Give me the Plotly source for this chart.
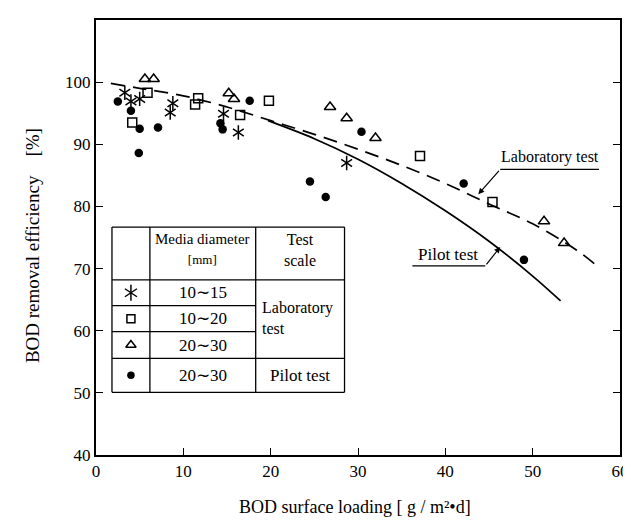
import plotly.graph_objects as go

# ---------------- data ----------------
star_x = [3.3, 4.0, 5.0, 8.8, 8.5, 14.6, 16.3, 28.7]
star_y = [98.3, 96.9, 97.3, 96.6, 95.1, 94.9, 91.9, 87.0]

square_x = [4.15, 5.9, 11.7, 11.35, 16.5, 19.8, 37.1, 45.4]
square_y = [93.5, 98.3, 97.4, 96.4, 94.7, 97.0, 88.1, 80.7]

tri_x = [5.6, 6.6, 15.2, 15.8, 26.8, 28.7, 32.0, 51.3, 53.6]
tri_y = [100.5, 100.5, 98.2, 97.3, 96.0, 94.2, 91.0, 77.6, 74.1]

dot_x = [2.5, 4.0, 5.0, 7.1, 4.9, 14.25, 14.5, 17.6, 24.5, 26.3, 30.4, 42.1, 49.0]
dot_y = [96.9, 95.4, 92.5, 92.7, 88.6, 93.4, 92.4, 97.0, 84.0, 81.5, 92.0, 83.7, 71.4]

lab_curve_x = [1.7, 5, 10, 15, 20, 25, 30, 35, 40, 45, 50, 55, 57.3]
lab_curve_y = [99.8, 99.0, 97.8, 96.0, 93.8, 91.6, 89.2, 86.6, 83.7, 80.4, 77.2, 73.0, 70.5]

pilot_curve_x = [19.7, 25, 30, 35, 40, 45, 50, 53.2]
pilot_curve_y = [93.8, 90.9, 87.6, 83.7, 79.3, 74.4, 68.8, 64.8]

x_ticks = [0, 10, 20, 30, 40, 50, 60]
y_ticks = [40, 50, 60, 70, 80, 90, 100]

table_rows = ["10\u223c15", "10\u223c20", "20\u223c30", "20\u223c30"]

# ---------------- geometry helpers ----------------
W, H = 631, 522
L, R, T, B = 88, 613, 10, 447
XR = [0, 60]
YR = [40, 110]
FONT = "Liberation Serif, Times New Roman, serif"


def pp(px, py):
    return (px - L) / (R - L), (B - py) / (B - T)


def pd(px, py):
    return (XR[0] + (px - L) / (R - L) * (XR[1] - XR[0]),
            YR[0] + (B - py) / (B - T) * (YR[1] - YR[0]))


fig = go.Figure()

# curves
fig.add_trace(go.Scatter(x=lab_curve_x, y=lab_curve_y, mode="lines",
                         line=dict(color="black", width=1.7, dash="14px,8px", shape="spline")))
fig.add_trace(go.Scatter(x=pilot_curve_x, y=pilot_curve_y, mode="lines",
                         line=dict(color="black", width=1.7, shape="spline")))

mk_line = dict(color="black", width=1.5)
# asterisks (6-arm: y-up + y-down)
for sym in ["y-up-open", "y-down-open"]:
    fig.add_trace(go.Scatter(x=star_x, y=star_y, mode="markers",
                             marker=dict(symbol=sym, size=9, color="black", line=mk_line)))
fig.add_trace(go.Scatter(x=square_x, y=square_y, mode="markers",
                         marker=dict(symbol="square-open", size=9, color="black", line=mk_line)))
fig.add_trace(go.Scatter(x=tri_x, y=tri_y, mode="markers",
                         marker=dict(symbol="triangle-up-open", size=10, color="black", line=mk_line)))
fig.add_trace(go.Scatter(x=dot_x, y=dot_y, mode="markers",
                         marker=dict(symbol="circle", size=8.5, color="black", line=dict(width=0))))

# ---------------- table ----------------
tl, tr, tt, tb = 104, 337, 218, 384
c1, c2 = 142, 248
r0, r1, r2, r3 = 271, 297, 323, 350
shapes = []


def hline(x0, x1, y, w=1.3):
    a = pp(x0, y); b = pp(x1, y)
    shapes.append(dict(type="line", xref="paper", yref="paper", x0=a[0], y0=a[1], x1=b[0], y1=b[1],
                       line=dict(color="black", width=w)))


def vline(x, y0, y1, w=1.3):
    a = pp(x, y0); b = pp(x, y1)
    shapes.append(dict(type="line", xref="paper", yref="paper", x0=a[0], y0=a[1], x1=b[0], y1=b[1],
                       line=dict(color="black", width=w)))


hline(tl, tr, tt); hline(tl, tr, tb)
vline(tl, tt, tb); vline(tr, tt, tb)
vline(c1, tt, tb); vline(c2, tt, tb)
hline(tl, tr, r0); hline(tl, c2, r1); hline(tl, c2, r2); hline(tl, tr, r3)

annotations = []


def text(px, py, s, size=15, xanchor="center", angle=0, align="center"):
    x, y = pp(px, py)
    annotations.append(dict(x=x, y=y, xref="paper", yref="paper", text=s, showarrow=False,
                            xanchor=xanchor, yanchor="middle", textangle=angle, align=align,
                            font=dict(family=FONT, size=size, color="black")))


cc2 = (c1 + c2) / 2
cc3 = (c2 + tr) / 2
text(cc2, 240, "Media diameter<br><span style='font-size:13px'>[mm]</span>", 15)
text(cc3, 241, "Test<br>scale", 16)
row_y = [(r0 + r1) / 2, (r1 + r2) / 2, (r2 + r3) / 2, (r3 + tb) / 2]
for ry, s in zip(row_y, table_rows):
    text(cc2, ry, s, 17)
text(c2 + 4, 309, "Laboratory<br>test", 16, xanchor="left", align="left")
text(cc3, row_y[3], "Pilot test", 17)

# legend swatches in the table
sx, _ = pd((tl + c1) / 2, 0)
sy = [pd(0, ry)[1] for ry in row_y]
for sym in ["y-up-open", "y-down-open"]:
    fig.add_trace(go.Scatter(x=[sx], y=[sy[0]], mode="markers", cliponaxis=False,
                             marker=dict(symbol=sym, size=10, color="black", line=mk_line)))
fig.add_trace(go.Scatter(x=[sx], y=[sy[1]], mode="markers",
                         marker=dict(symbol="square-open", size=8, color="black", line=mk_line)))
fig.add_trace(go.Scatter(x=[sx], y=[sy[2]], mode="markers",
                         marker=dict(symbol="triangle-up-open", size=9, color="black", line=mk_line)))
fig.add_trace(go.Scatter(x=[sx], y=[sy[3]], mode="markers",
                         marker=dict(symbol="circle", size=7.5, color="black", line=dict(width=0))))

# ---------------- curve labels ----------------
text(543, 148, "Laboratory test", 16)
hline(493, 592, 160, 1.2)
tip = pd(471, 185); tail = pd(493, 160)
annotations.append(dict(x=tip[0], y=tip[1], ax=tail[0], ay=tail[1], xref="x", yref="y",
                        axref="x", ayref="y", text="", showarrow=True, arrowhead=2,
                        arrowsize=1, arrowwidth=1.2, arrowcolor="black"))

text(441, 246, "Pilot test", 17)
hline(405, 478, 257, 1.2)
tip = pd(493, 238); tail = pd(478, 257)
annotations.append(dict(x=tip[0], y=tip[1], ax=tail[0], ay=tail[1], xref="x", yref="y",
                        axref="x", ayref="y", text="", showarrow=True, arrowhead=2,
                        arrowsize=1, arrowwidth=1.2, arrowcolor="black"))

# axis titles
text(347, 499, "BOD surface loading [ g / m\u00b2\u2022d]", 18)
text(25, 237, "BOD removal efficiency\u2002\u2002[%]", 19, angle=-90)

fig.update_layout(
    width=W, height=H,
    margin=dict(l=L, r=W - R, t=T, b=H - B, pad=0),
    plot_bgcolor="white", paper_bgcolor="white",
    showlegend=False,
    shapes=shapes, annotations=annotations,
    font=dict(family=FONT, size=16, color="black"),
)
fig.update_xaxes(range=XR, tickvals=x_ticks, ticks="inside", ticklen=7, tickwidth=1.3,
                 tickcolor="black", showline=True, linecolor="black", linewidth=2,
                 mirror=True, showgrid=False, zeroline=False,
                 tickfont=dict(family=FONT, size=17, color="black"))
fig.update_yaxes(range=YR, tickvals=y_ticks, ticks="inside", ticklen=7, tickwidth=1.3,
                 tickcolor="black", showline=True, linecolor="black", linewidth=2,
                 mirror="ticks", showgrid=False, zeroline=False,
                 tickfont=dict(family=FONT, size=17, color="black"))

fig.write_html("out.html")
